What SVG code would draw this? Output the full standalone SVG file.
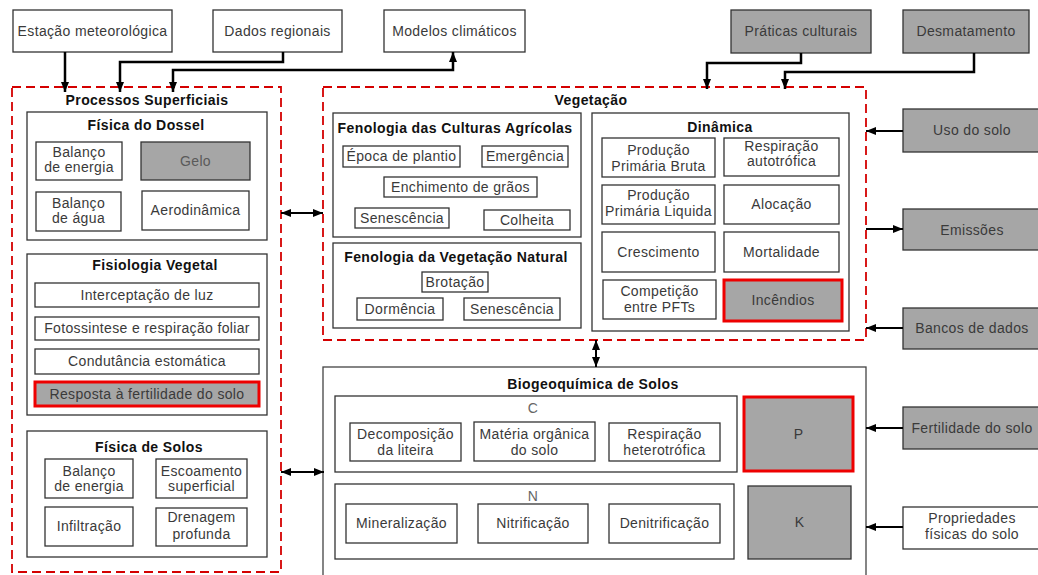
<svg xmlns="http://www.w3.org/2000/svg" width="1038" height="575" viewBox="0 0 1038 575">
<defs>
<style>
.box{fill:#fff;stroke:#333;stroke-width:1.3}
.gray{fill:#a6a6a6;stroke:#333;stroke-width:1.3}
.red{fill:#a6a6a6;stroke:#e00;stroke-width:3}
.dash{fill:none;stroke:#d40000;stroke-width:1.8;stroke-dasharray:9 5}
.t{font-family:"Liberation Sans",Arial,sans-serif;font-size:14px;fill:#3a3a3a;text-anchor:middle;letter-spacing:0.35px}
.b{font-weight:bold;fill:#111;letter-spacing:0.4px}
.c{stroke:#000;stroke-width:2.5;fill:none}
.c2{stroke:#000;stroke-width:2;fill:none}
</style>
<marker id="a" viewBox="0 0 10 8" refX="10" refY="4" markerWidth="10" markerHeight="8" markerUnits="userSpaceOnUse" orient="auto-start-reverse"><path d="M0,0 L10,4 L0,8 z" fill="#000"/></marker>
</defs>
<rect width="1038" height="575" fill="#fff"/>

<g id="estacao"><rect class="box" x="13" y="10" width="159" height="42"/><text class="t" x="92.5" y="36">Estação meteorológica</text></g>
<g id="dados"><rect class="box" x="213" y="10" width="129" height="42"/><text class="t" x="277.5" y="36">Dados regionais</text></g>
<g id="modelos"><rect class="box" x="384" y="10" width="141" height="42"/><text class="t" x="454.5" y="36">Modelos climáticos</text></g>
<g id="praticas"><rect class="gray" x="731" y="10" width="140" height="43"/><text class="t" x="801" y="36">Práticas culturais</text></g>
<g id="desmatamento"><rect class="gray" x="903" y="10" width="126" height="43"/><text class="t" x="966" y="36">Desmatamento</text></g>

<g id="processos">
<rect class="dash" x="12" y="87" width="269" height="485"/>
<text class="t b" x="147" y="105">Processos Superficiais</text>
<g id="fisica-dossel">
<rect class="box" x="27" y="112" width="240" height="128"/>
<text class="t b" x="146" y="130">Física do Dossel</text>
<rect class="box" x="36" y="142" width="86" height="38"/><text class="t" x="79" y="157">Balanço</text><text class="t" x="79" y="172">de energia</text>
<rect class="gray" x="141" y="142" width="109" height="38"/><text class="t" x="195.5" y="166" style="fill:#5a5a5a">Gelo</text>
<rect class="box" x="36" y="192" width="85" height="39"/><text class="t" x="78.5" y="208">Balanço</text><text class="t" x="78.5" y="223">de água</text>
<rect class="box" x="142" y="191" width="107" height="39"/><text class="t" x="195.5" y="215">Aerodinâmica</text>
</g>
<g id="fisiologia">
<rect class="box" x="27" y="254" width="240" height="161"/>
<text class="t b" x="155" y="270">Fisiologia Vegetal</text>
<rect class="box" x="35" y="283" width="224" height="24"/><text class="t" x="147" y="300">Interceptação de luz</text>
<rect class="box" x="35" y="317" width="224" height="23"/><text class="t" x="147" y="333">Fotossintese e respiração foliar</text>
<rect class="box" x="35" y="349" width="224" height="25"/><text class="t" x="147" y="366">Condutância estomática</text>
<rect class="red" x="35" y="382" width="224" height="24"/><text class="t" x="147" y="399">Resposta à fertilidade do solo</text>
</g>
<g id="fisica-solos">
<rect class="box" x="27" y="431" width="240" height="126"/>
<text class="t b" x="149" y="452">Física de Solos</text>
<rect class="box" x="45" y="459" width="88" height="39"/><text class="t" x="89" y="476">Balanço</text><text class="t" x="89" y="491">de energia</text>
<rect class="box" x="156" y="459" width="91" height="39"/><text class="t" x="201.5" y="476">Escoamento</text><text class="t" x="201.5" y="491">superficial</text>
<rect class="box" x="45" y="507" width="88" height="39"/><text class="t" x="89" y="531">Infiltração</text>
<rect class="box" x="156" y="508" width="91" height="38"/><text class="t" x="201.5" y="522">Drenagem</text><text class="t" x="201.5" y="539">profunda</text>
</g>
</g>

<g id="vegetacao">
<rect class="dash" x="323" y="87" width="543" height="253"/>
<text class="t b" x="591" y="105">Vegetação</text>
<g id="fenologia-culturas">
<rect class="box" x="333" y="113" width="248" height="124"/>
<text class="t b" x="455" y="133">Fenologia das Culturas Agrícolas</text>
<rect class="box" x="343" y="146" width="117" height="21"/><text class="t" x="401.5" y="161">Época de plantio</text>
<rect class="box" x="482" y="146" width="86" height="21"/><text class="t" x="525" y="161">Emergência</text>
<rect class="box" x="384" y="177" width="153" height="20"/><text class="t" x="460.5" y="192">Enchimento de grãos</text>
<rect class="box" x="355" y="208" width="94" height="20"/><text class="t" x="402" y="223">Senescência</text>
<rect class="box" x="484" y="210" width="86" height="20"/><text class="t" x="527" y="225">Colheita</text>
</g>
<g id="fenologia-natural">
<rect class="box" x="333" y="243" width="248" height="85"/>
<text class="t b" x="456" y="262">Fenologia da Vegetação Natural</text>
<rect class="box" x="422" y="272" width="66" height="20"/><text class="t" x="455" y="287">Brotação</text>
<rect class="box" x="357" y="298" width="86" height="22"/><text class="t" x="400" y="314">Dormência</text>
<rect class="box" x="464" y="298" width="96" height="22"/><text class="t" x="512" y="314">Senescência</text>
</g>
<g id="dinamica">
<rect class="box" x="592" y="113" width="257" height="218"/>
<text class="t b" x="720" y="132">Dinâmica</text>
<rect class="box" x="602" y="138" width="113" height="39"/><text class="t" x="658.5" y="154.5">Produção</text><text class="t" x="658.5" y="170.5">Primária Bruta</text>
<rect class="box" x="724" y="138" width="115" height="38"/><text class="t" x="781.5" y="150.5">Respiração</text><text class="t" x="781.5" y="166">autotrófica</text>
<rect class="box" x="602" y="185" width="113" height="39"/><text class="t" x="658.5" y="199.5">Produção</text><text class="t" x="658.5" y="215.5">Primária Liquida</text>
<rect class="box" x="724" y="185" width="115" height="39"/><text class="t" x="781.5" y="209">Alocação</text>
<rect class="box" x="602" y="232" width="113" height="40"/><text class="t" x="658.5" y="256.5">Crescimento</text>
<rect class="box" x="724" y="232" width="115" height="40"/><text class="t" x="781.5" y="256.5">Mortalidade</text>
<rect class="box" x="603" y="280" width="113" height="39"/><text class="t" x="659.5" y="295.5">Competição</text><text class="t" x="659.5" y="311.5">entre PFTs</text>
<rect class="red" x="724" y="280" width="118" height="41"/><text class="t" x="783" y="305">Incêndios</text>
</g>
</g>

<g id="biogeoquimica">
<rect class="box" x="323" y="367" width="543" height="220" style="stroke:#444"/>
<text class="t b" x="593" y="389">Biogeoquímica de Solos</text>
<g id="ciclo-c">
<rect class="box" x="335" y="396" width="402" height="76"/>
<text class="t" x="533" y="412.5" style="fill:#666">C</text>
<rect class="box" x="350" y="423" width="111" height="38"/><text class="t" x="405.5" y="438.5">Decomposição</text><text class="t" x="405.5" y="454.5">da liteira</text>
<rect class="box" x="474" y="422" width="121" height="39"/><text class="t" x="534.5" y="438.5">Matéria orgânica</text><text class="t" x="534.5" y="454.5">do solo</text>
<rect class="box" x="609" y="423" width="111" height="38"/><text class="t" x="664.5" y="438.5">Respiração</text><text class="t" x="664.5" y="454.5">heterotrófica</text>
</g>
<g id="ciclo-n">
<rect class="box" x="335" y="484" width="399" height="75"/>
<text class="t" x="533" y="501" style="fill:#666">N</text>
<rect class="box" x="346" y="504" width="111" height="39"/><text class="t" x="401.5" y="528">Mineralização</text>
<rect class="box" x="478" y="504" width="110" height="39"/><text class="t" x="533" y="528">Nitrificação</text>
<rect class="box" x="609" y="504" width="111" height="39"/><text class="t" x="664.5" y="528">Denitrificação</text>
</g>
<g id="p"><rect class="red" x="744" y="397" width="109" height="74"/><text class="t" x="798.5" y="438.5">P</text></g>
<g id="k"><rect class="gray" x="748" y="486" width="103" height="73"/><text class="t" x="799.5" y="527">K</text></g>
</g>

<g id="uso-solo"><rect class="gray" x="903" y="109" width="140" height="43"/><text class="t" x="972" y="135">Uso do solo</text></g>
<g id="emissoes"><rect class="gray" x="903" y="209" width="140" height="41"/><text class="t" x="972" y="234.5">Emissões</text></g>
<g id="bancos"><rect class="gray" x="903" y="308" width="140" height="41"/><text class="t" x="972" y="333">Bancos de dados</text></g>
<g id="fertilidade"><rect class="gray" x="903" y="407" width="140" height="42"/><text class="t" x="972" y="432.5">Fertilidade do solo</text></g>
<g id="propriedades"><rect class="box" x="903" y="507" width="140" height="42"/><text class="t" x="972" y="522.5">Propriedades</text><text class="t" x="972" y="539">físicas do solo</text></g>

<g id="connectors">
<path class="c" d="M65,52 V92" marker-end="url(#a)"/>
<path class="c" d="M283,52 V62 H120 V92" marker-end="url(#a)"/>
<path class="c" d="M173,92 V70 H453 V52" marker-start="url(#a)" marker-end="url(#a)"/>
<path class="c" d="M801,53 V63 H707 V89" marker-end="url(#a)"/>
<path class="c" d="M974,53 V72 H785 V89" marker-end="url(#a)"/>
<path class="c2" d="M281,213 H323" marker-start="url(#a)" marker-end="url(#a)"/>
<path class="c2" d="M281,472 H324" marker-start="url(#a)" marker-end="url(#a)"/>
<path class="c2" d="M596,340 V367" marker-start="url(#a)" marker-end="url(#a)"/>
<path class="c2" d="M903,131 H866" marker-end="url(#a)"/>
<path class="c2" d="M866,229 H903" marker-end="url(#a)"/>
<path class="c2" d="M903,328 H866" marker-end="url(#a)"/>
<path class="c2" d="M903,428 H866" marker-end="url(#a)"/>
<path class="c2" d="M903,527 H866" marker-end="url(#a)"/>
</g>
</svg>
